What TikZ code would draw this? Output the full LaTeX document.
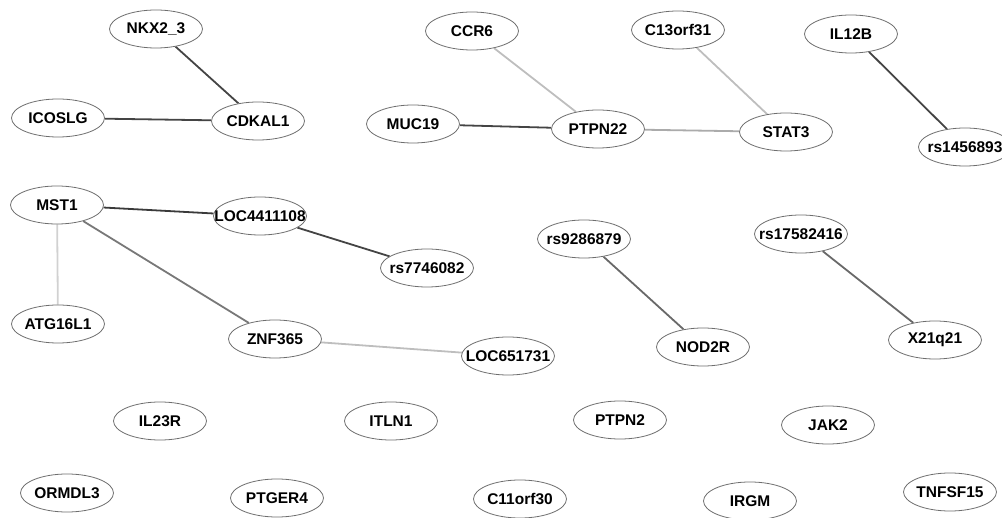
\documentclass[tikz,border=0pt]{standalone}
\usepackage{fontspec}
\setmainfont{Liberation Sans}
\usepackage{xcolor}
\usepackage{tikz}
\usetikzlibrary{shapes.geometric, backgrounds}
\definecolor{edgedark}{RGB}{68,68,68}
\definecolor{edgemid}{RGB}{120,120,120}
\definecolor{edgelight}{RGB}{190,190,190}
\definecolor{rimcolor}{RGB}{110,110,110}
\newcommand{\gname}[1]{\makebox[0pt]{#1}}

\begin{document}
\begin{tikzpicture}[
    x=1pt, y=-1pt,
    gene/.style={ellipse, draw=rimcolor, line width=0.8pt, fill=white, inner sep=0pt,
                 minimum width=93pt, minimum height=38pt,
                 font=\fontsize{15.5}{18}\selectfont\bfseries},
    strong/.style={draw=edgedark, line width=1.8pt},
    medium/.style={draw=edgemid, line width=1.8pt},
    weak/.style={draw=edgelight, line width=1.8pt}
]
\useasboundingbox (0,0) rectangle (1002,518);

% Nodes
\node[gene] (nkx)    at (156,29)  {\gname{NKX2\_3}};
\node[gene] (icoslg) at (58,118)  {\gname{ICOSLG}};
\node[gene] (cdkal)  at (258,121) {\gname{CDKAL1}};
\node[gene] (ccr)    at (472,31)  {\gname{CCR6}};
\node[gene] (muc)    at (413,124) {\gname{MUC19}};
\node[gene] (ptpnb)  at (598,129) {\gname{PTPN22}};
\node[gene] (corf)   at (678,30)  {\gname{C13orf31}};
\node[gene] (stat)   at (786,132) {\gname{STAT3}};
\node[gene] (il12)   at (851,34)  {\gname{IL12B}};
\node[gene] (rsa)    at (965,147) {\gname{rs1456893}};
\node[gene] (mst)    at (57,205)  {\gname{MST1}};
\node[gene] (loca)   at (260,216) {\gname{LOC4411108}};
\node[gene] (rsb)    at (427,268) {\gname{rs7746082}};
\node[gene] (atg)    at (58,324)  {\gname{ATG16L1}};
\node[gene] (znf)    at (275,339) {\gname{ZNF365}};
\node[gene] (locb)   at (508,356) {\gname{LOC651731}};
\node[gene] (rsc)    at (584,239) {\gname{rs9286879}};
\node[gene] (nod)    at (703,347) {\gname{NOD2R}};
\node[gene] (rsd)    at (801,234) {\gname{rs17582416}};
\node[gene] (xq)     at (935,340) {\gname{X21q21}};
\node[gene] (il23)   at (160,421) {\gname{IL23R}};
\node[gene] (itln)   at (391,421) {\gname{ITLN1}};
\node[gene] (ptpna)  at (620,420) {\gname{PTPN2}};
\node[gene] (jak)    at (828,425) {\gname{JAK2}};
\node[gene] (ormdl)  at (67,493)  {\gname{ORMDL3}};
\node[gene] (ptger)  at (277,498) {\gname{PTGER4}};
\node[gene] (c11)    at (520,499) {\gname{C11orf30}};
\node[gene] (irgm)   at (750,501) {\gname{IRGM}};
\node[gene] (tnfsf)  at (950,492) {\gname{TNFSF15}};

% Edges
\begin{scope}[on background layer]
\draw[strong] (nkx) -- (cdkal);
\draw[strong] (icoslg) -- (cdkal);
\draw[weak] (ccr) -- (ptpnb);
\draw[strong] (muc) -- (ptpnb);
\draw[weak, draw=edgelight!90!black] (ptpnb) -- (stat);
\draw[weak] (corf) -- (stat);
\draw[strong] (il12) -- (rsa);
\draw[strong, draw=edgedark!85!black] (mst) -- (loca);
\draw[strong] (loca) -- (rsb);
\draw[weak, draw=edgelight!70!white] (mst) -- (atg);
\draw[medium] (mst) -- (znf);
\draw[weak] (znf) -- (locb);
\draw[strong, draw=edgedark!80!white] (rsc) -- (nod);
\draw[strong, draw=edgedark!80!white] (rsd) -- (xq);
\end{scope}

\end{tikzpicture}
\end{document}
